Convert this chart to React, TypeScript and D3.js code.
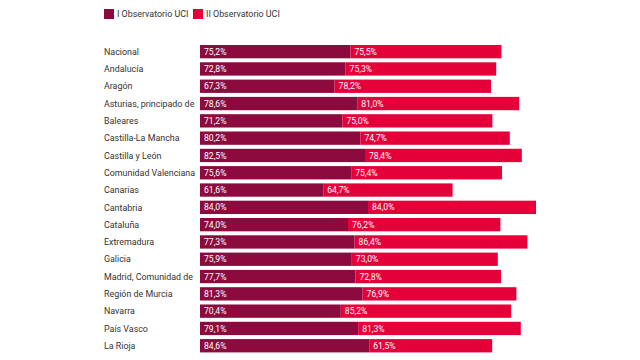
import React from "react";
import * as d3 from "d3";

const regions = [
  "Nacional", "Andalucía", "Aragón", "Asturias, principado de", "Baleares",
  "Castilla-La Mancha", "Castilla y León", "Comunidad Valenciana", "Canarias",
  "Cantabria", "Cataluña", "Extremadura", "Galicia", "Madrid, Comunidad de",
  "Región de Murcia", "Navarra", "País Vasco", "La Rioja",
];
const obs1 = [75.2, 72.8, 67.3, 78.6, 71.2, 80.2, 82.5, 75.6, 61.6, 84.0, 74.0, 77.3, 75.9, 77.7, 81.3, 70.4, 79.1, 84.6];
const obs2 = [75.5, 75.3, 78.2, 81.0, 75.0, 74.7, 78.4, 75.4, 64.7, 84.0, 76.2, 86.4, 73.0, 72.8, 76.9, 85.2, 81.3, 61.5];
const seriesNames = ["I Observatorio UCI", "II Observatorio UCI"];
const colors = ["#8c0a3e", "#e6003a"];

const fmt = (v: number) => v.toFixed(1).replace(".", ",") + "%";

export default function App() {
  const W = 640, H = 360;
  const x = d3.scaleLinear().domain([0, 100]).range([200, 400]);
  const y = d3.scaleBand<string>().domain(regions).range([43, 354.4]).paddingInner(0.23).paddingOuter(0.115);
  const font = "Roboto, 'Noto Sans', sans-serif";
  return (
    <svg width={W} height={H} style={{ position: "absolute", left: 0, top: 0, background: "#fff" }} fontFamily={font}>
      <g>
        <rect x={104} y={9} width={10} height={10} fill={colors[0]} />
        <text x={117} y={17.3} fontSize={8.9} fill="#333">{seriesNames[0]}</text>
        <rect x={193} y={9} width={10} height={10} fill={colors[1]} />
        <text x={206} y={17.3} fontSize={8.9} fill="#333">{seriesNames[1]}</text>
      </g>
      {regions.map((r, i) => {
        const y0 = y(r)!;
        const bh = y.bandwidth();
        const a = obs1[i], b = obs2[i];
        const xa0 = x(0), xa1 = x(a), xb1 = x(a + b);
        return (
          <g key={r}>
            <text x={104} y={y0 + bh / 2 + 3.2} fontSize={8.9} fill="#333">{r}</text>
            <rect x={xa0} y={y0} width={xa1 - xa0} height={bh} fill={colors[0]} />
            <rect x={xa1} y={y0} width={xb1 - xa1} height={bh} fill={colors[1]} />
            <text x={xa0 + 4} y={y0 + bh / 2 + 3.1} fontSize={8.6} fill="#fff">{fmt(a)}</text>
            <text x={xa1 + 4} y={y0 + bh / 2 + 3.1} fontSize={8.6} fill="#fff">{fmt(b)}</text>
          </g>
        );
      })}
    </svg>
  );
}
